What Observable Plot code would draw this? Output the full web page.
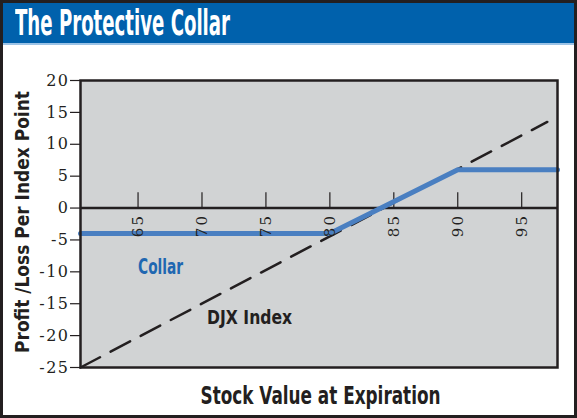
<!DOCTYPE html>
<html><head><meta charset="utf-8">
<script src="https://cdn.jsdelivr.net/npm/d3@7"></script>
<script src="https://cdn.jsdelivr.net/npm/@observablehq/plot@0.6"></script>
<style>
html,body{margin:0;padding:0;background:#fff;}
#wrap{width:577px;height:418px;box-sizing:border-box;border:3px solid #231f20;position:relative;overflow:hidden;background:#fff;}
#title{height:40px;background:#0061ac;border-bottom:2px solid #9cc3e6;position:relative;}
#tt{position:absolute;left:12px;top:0;line-height:40px;font-family:"Liberation Sans Narrow","DejaVu Sans Condensed",sans-serif;font-weight:bold;font-size:35px;color:#fff;white-space:nowrap;transform-origin:0 50%;}
#chart svg{display:block}
.xt text{letter-spacing:2px}
.yt text{letter-spacing:1.5px}
</style></head>
<body><div id="wrap"><div id="title"><span id="tt">The Protective Collar</span></div><div id="chart"></div></div>
<script>
const xTicks = [65, 70, 75, 80, 85, 90, 95];
const yTicks = [-25, -20, -15, -10, -5, 0, 5, 10, 15, 20];
const collarX = [60.5, 80, 90, 97.8];
const collarY = [-4, -4, 6, 6];
const djxX = [60.5, 97.0];
const djxY = [-25, 13.5];
const labelText = ["Collar", "DJX Index"];
const labelX = [65.0, 70.4];
const labelY = [-10.4, -18.2];
const labelColor = ["#1f67b1", "#231f20"];
const labelSize = [22, 19];

const collar = collarX.map((x, i) => ({x, y: collarY[i]}));
const djx = djxX.map((x, i) => ({x, y: djxY[i]}));
const labels = labelText.map((t, i) => ({t, x: labelX[i], y: labelY[i], c: labelColor[i], s: labelSize[i]}));

const sans = "'Liberation Sans Narrow','DejaVu Sans Condensed',sans-serif";
const ink = "#231f20";

const plot = Plot.plot({
  width: 571, height: 370,
  marginLeft: 77, marginRight: 17, marginTop: 35, marginBottom: 48,
  x: {domain: [60.5, 97.8], axis: null},
  y: {domain: [-25, 20]},
  style: {background: "transparent", fontFamily: "'DejaVu Serif',serif", color: ink},
  marks: [
    Plot.frame({fill: "#d1d3d4", stroke: null}),
    Plot.axisY({ticks: yTicks, tickSize: 10, tickPadding: 1, tickFormat: d => d < 0 ? "-" + Math.abs(d) : String(d), fontSize: 16, label: null, stroke: ink, strokeWidth: 1.2, fill: ink, className: "yt"}),
    Plot.ruleX(xTicks, {x: d => d, y1: 0, y2: 2.4, stroke: ink, strokeWidth: 1.2}),
    Plot.ruleY([0], {stroke: ink, strokeWidth: 2.5}),
    Plot.line(djx, {x: "x", y: "y", stroke: ink, strokeWidth: 2.5, strokeDasharray: "22,12"}),
    Plot.line(collar, {x: "x", y: "y", stroke: "#4a7fc1", strokeWidth: 5}),
    Plot.text(xTicks, {x: d => d, y: 0, text: d => String(d), rotate: -90, textAnchor: "end", lineAnchor: "middle", dy: 6, fontSize: 15, fill: ink, className: "xt"}),
    Plot.text(labels, {x: "x", y: "y", text: "t", fill: "c", fontSize: "s", textAnchor: "start", lineAnchor: "bottom", fontFamily: sans, fontWeight: "bold"}),
    Plot.text(["Stock Value at Expiration"], {text: d => d, frameAnchor: "bottom", textAnchor: "middle", lineAnchor: "bottom", dy: 36, dx: 1.5, fontSize: 25, fontFamily: sans, fontWeight: "bold", fill: ink}),
    Plot.text(["Profit /Loss Per Index Point"], {text: d => d, frameAnchor: "left", textAnchor: "middle", lineAnchor: "middle", rotate: -90, dx: -58, dy: -2, fontSize: 25, fontFamily: sans, fontWeight: "bold", fill: ink, className: "ytitle"}),
    Plot.frame({stroke: ink, strokeWidth: 2.5})
  ]
});
document.getElementById("chart").appendChild(plot);

const fits = {"Stock Value at Expiration": 240, "Collar": 45, "DJX Index": 85};
plot.querySelectorAll("text").forEach(t => {
  const s = t.textContent;
  if (fits[s]) { t.setAttribute("textLength", fits[s]); t.setAttribute("lengthAdjust", "spacingAndGlyphs"); }
  if (s === "Profit /Loss Per Index Point") {
    const natural = t.getComputedTextLength();
    if (natural > 0) t.setAttribute("font-size", (25 * 262 / natural).toFixed(2));
  }
});
const tt = document.getElementById("tt");
const w = tt.getBoundingClientRect().width;
tt.style.transform = `scaleX(${215 / w})`;
</script>
</body></html>
